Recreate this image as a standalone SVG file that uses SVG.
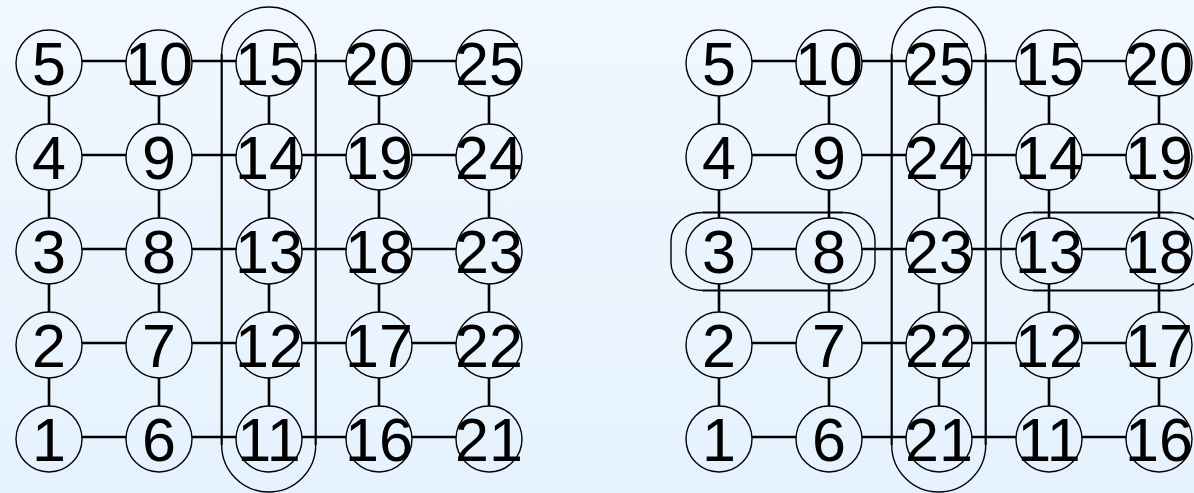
<svg xmlns="http://www.w3.org/2000/svg" width="1194" height="493" viewBox="0 0 1194 493">
<defs>
<linearGradient id="bg" x1="0" y1="0" x2="0" y2="1">
<stop offset="0" stop-color="#f0f7ff"/>
<stop offset="1" stop-color="#e5f2fd"/>
</linearGradient>
</defs>
<style>
.n circle{fill:none;stroke:#000;stroke-width:1.4}
.n text{font-family:"Liberation Sans",Arial,Helvetica,sans-serif;font-size:61px;text-anchor:middle;fill:#000}
.c{fill:none;stroke:#000;stroke-width:2.6}
.sl{fill:none;stroke:#000;stroke-width:2.2}
.sa{fill:none;stroke:#000;stroke-width:1.4}
</style>
<rect width="1194" height="493" fill="url(#bg)"/>
<g id="connectors">
<path class="c" d="M82 61H126M192 61H236M302 61H346M412 61H456M82 155H126M192 155H236M302 155H346M412 155H456M82 249H126M192 249H236M302 249H346M412 249H456M82 343H126M192 343H236M302 343H346M412 343H456M82 437H126M192 437H236M302 437H346M412 437H456"/>
<path class="c" d="M49 96V124M49 190V218M49 284V312M49 378V406M159 96V124M159 190V218M159 284V312M159 378V406M269 96V124M269 190V218M269 284V312M269 378V406M379 96V124M379 190V218M379 284V312M379 378V406M489 96V124M489 190V218M489 284V312M489 378V406"/>
<path class="c" d="M752 61H796M862 61H906M972 61H1016M1082 61H1126M752 155H796M862 155H906M972 155H1016M1082 155H1126M752 249H796M862 249H906M972 249H1016M1082 249H1126M752 343H796M862 343H906M972 343H1016M1082 343H1126M752 437H796M862 437H906M972 437H1016M1082 437H1126"/>
<path class="c" d="M719 96V124M719 190V218M719 284V312M719 378V406M829 96V124M829 190V218M829 284V312M829 378V406M939 96V124M939 190V218M939 284V312M939 378V406M1049 96V124M1049 190V218M1049 284V312M1049 378V406M1159 96V124M1159 190V218M1159 284V312M1159 378V406"/>
</g>
<g id="group-left-col3">
<path class="sl" d="M221.7 54V445M315.7 54V445"/>
<path class="sa" d="M221.7 54A47 47 0 0 1 315.7 54M221.7 445A47 47 0 0 0 315.7 445"/>
</g>
<g id="group-right-col3">
<path class="sl" d="M891.7 54V445M985.7 54V445"/>
<path class="sa" d="M891.7 54A47 47 0 0 1 985.7 54M891.7 445A47 47 0 0 0 985.7 445"/>
</g>
<g id="group-right-3-8">
<path class="sl" d="M703 212.5H843M703 290.5H843"/>
<path class="sa" d="M703 212.5A32 28 0 0 0 671 240.5V262.5A32 28 0 0 0 703 290.5M843 212.5A32 28 0 0 1 875 240.5V262.5A32 28 0 0 1 843 290.5"/>
</g>
<g id="group-right-13-18">
<path class="sl" d="M1033 212.5H1173M1033 290.5H1173"/>
<path class="sa" d="M1033 212.5A32 28 0 0 0 1001 240.5V262.5A32 28 0 0 0 1033 290.5M1173 212.5A32 28 0 0 1 1205 240.5V262.5A32 28 0 0 1 1173 290.5"/>
</g>
<g id="L5" class="n"><circle cx="49" cy="63" r="33"/><text x="49" y="85">5</text></g>
<g id="L4" class="n"><circle cx="49" cy="157" r="33"/><text x="49" y="179">4</text></g>
<g id="L3" class="n"><circle cx="49" cy="251" r="33"/><text x="49" y="273">3</text></g>
<g id="L2" class="n"><circle cx="49" cy="345" r="33"/><text x="49" y="367">2</text></g>
<g id="L1" class="n"><circle cx="49" cy="439" r="33"/><text x="49" y="461">1</text></g>
<g id="L10" class="n"><circle cx="159" cy="63" r="33"/><text x="159" y="85">10</text></g>
<g id="L9" class="n"><circle cx="159" cy="157" r="33"/><text x="159" y="179">9</text></g>
<g id="L8" class="n"><circle cx="159" cy="251" r="33"/><text x="159" y="273">8</text></g>
<g id="L7" class="n"><circle cx="159" cy="345" r="33"/><text x="159" y="367">7</text></g>
<g id="L6" class="n"><circle cx="159" cy="439" r="33"/><text x="159" y="461">6</text></g>
<g id="L15" class="n"><circle cx="269" cy="63" r="33"/><text x="269" y="85">15</text></g>
<g id="L14" class="n"><circle cx="269" cy="157" r="33"/><text x="269" y="179">14</text></g>
<g id="L13" class="n"><circle cx="269" cy="251" r="33"/><text x="269" y="273">13</text></g>
<g id="L12" class="n"><circle cx="269" cy="345" r="33"/><text x="269" y="367">12</text></g>
<g id="L11" class="n"><circle cx="269" cy="439" r="33"/><text x="269" y="461">11</text></g>
<g id="L20" class="n"><circle cx="379" cy="63" r="33"/><text x="379" y="85">20</text></g>
<g id="L19" class="n"><circle cx="379" cy="157" r="33"/><text x="379" y="179">19</text></g>
<g id="L18" class="n"><circle cx="379" cy="251" r="33"/><text x="379" y="273">18</text></g>
<g id="L17" class="n"><circle cx="379" cy="345" r="33"/><text x="379" y="367">17</text></g>
<g id="L16" class="n"><circle cx="379" cy="439" r="33"/><text x="379" y="461">16</text></g>
<g id="L25" class="n"><circle cx="489" cy="63" r="33"/><text x="489" y="85">25</text></g>
<g id="L24" class="n"><circle cx="489" cy="157" r="33"/><text x="489" y="179">24</text></g>
<g id="L23" class="n"><circle cx="489" cy="251" r="33"/><text x="489" y="273">23</text></g>
<g id="L22" class="n"><circle cx="489" cy="345" r="33"/><text x="489" y="367">22</text></g>
<g id="L21" class="n"><circle cx="489" cy="439" r="33"/><text x="489" y="461">21</text></g>
<g id="R5" class="n"><circle cx="719" cy="63" r="33"/><text x="719" y="85">5</text></g>
<g id="R4" class="n"><circle cx="719" cy="157" r="33"/><text x="719" y="179">4</text></g>
<g id="R3" class="n"><circle cx="719" cy="251" r="33"/><text x="719" y="273">3</text></g>
<g id="R2" class="n"><circle cx="719" cy="345" r="33"/><text x="719" y="367">2</text></g>
<g id="R1" class="n"><circle cx="719" cy="439" r="33"/><text x="719" y="461">1</text></g>
<g id="R10" class="n"><circle cx="829" cy="63" r="33"/><text x="829" y="85">10</text></g>
<g id="R9" class="n"><circle cx="829" cy="157" r="33"/><text x="829" y="179">9</text></g>
<g id="R8" class="n"><circle cx="829" cy="251" r="33"/><text x="829" y="273">8</text></g>
<g id="R7" class="n"><circle cx="829" cy="345" r="33"/><text x="829" y="367">7</text></g>
<g id="R6" class="n"><circle cx="829" cy="439" r="33"/><text x="829" y="461">6</text></g>
<g id="R25" class="n"><circle cx="939" cy="63" r="33"/><text x="939" y="85">25</text></g>
<g id="R24" class="n"><circle cx="939" cy="157" r="33"/><text x="939" y="179">24</text></g>
<g id="R23" class="n"><circle cx="939" cy="251" r="33"/><text x="939" y="273">23</text></g>
<g id="R22" class="n"><circle cx="939" cy="345" r="33"/><text x="939" y="367">22</text></g>
<g id="R21" class="n"><circle cx="939" cy="439" r="33"/><text x="939" y="461">21</text></g>
<g id="R15" class="n"><circle cx="1049" cy="63" r="33"/><text x="1049" y="85">15</text></g>
<g id="R14" class="n"><circle cx="1049" cy="157" r="33"/><text x="1049" y="179">14</text></g>
<g id="R13" class="n"><circle cx="1049" cy="251" r="33"/><text x="1049" y="273">13</text></g>
<g id="R12" class="n"><circle cx="1049" cy="345" r="33"/><text x="1049" y="367">12</text></g>
<g id="R11" class="n"><circle cx="1049" cy="439" r="33"/><text x="1049" y="461">11</text></g>
<g id="R20" class="n"><circle cx="1159" cy="63" r="33"/><text x="1159" y="85">20</text></g>
<g id="R19" class="n"><circle cx="1159" cy="157" r="33"/><text x="1159" y="179">19</text></g>
<g id="R18" class="n"><circle cx="1159" cy="251" r="33"/><text x="1159" y="273">18</text></g>
<g id="R17" class="n"><circle cx="1159" cy="345" r="33"/><text x="1159" y="367">17</text></g>
<g id="R16" class="n"><circle cx="1159" cy="439" r="33"/><text x="1159" y="461">16</text></g>
</svg>
